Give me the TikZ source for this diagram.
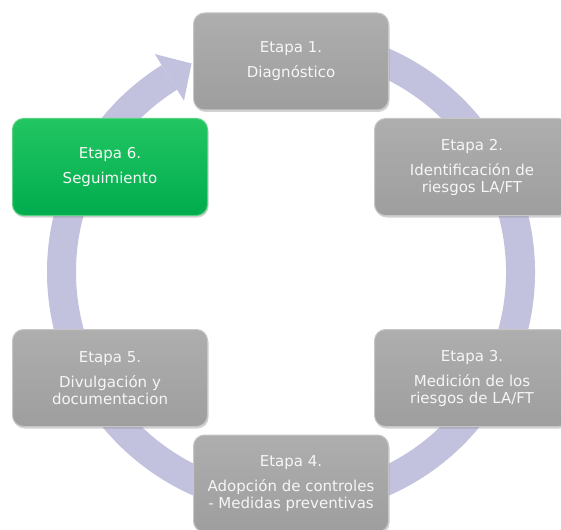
\documentclass[tikz,border=0pt]{standalone}
\usepackage{fontspec}
\setmainfont{DejaVu Sans}
\usepackage{xcolor}
\usepackage{tikz}
\definecolor{grisarriba}{RGB}{174,174,174}
\definecolor{grisabajo}{RGB}{158,158,158}
\definecolor{grisborde}{RGB}{198,198,198}
\definecolor{verdearriba}{RGB}{34,198,98}
\definecolor{verdeabajo}{RGB}{0,172,78}
\definecolor{verdeborde}{RGB}{90,210,130}
\definecolor{lilaanillo}{RGB}{194,194,222}
\definecolor{blancotexto}{RGB}{246,246,246}
\usetikzlibrary{shapes,shadows,arrows}

\begin{document}
\begin{tikzpicture}[x=1pt, y=1pt,
        etapa/.style={draw=grisborde, line width=1pt, rounded corners=11pt,
            top color=grisarriba, bottom color=grisabajo,
            minimum width=195pt, minimum height=97pt, align=center,
            text=blancotexto, font=\fontsize{15}{17}\selectfont,
            drop shadow={opacity=0.35, shadow xshift=1pt, shadow yshift=-2pt}},
        etapaverde/.style={etapa, draw=verdeborde,
            top color=verdearriba, bottom color=verdeabajo},
        anillo/.style={draw=lilaanillo, line width=29pt}]
        \useasboundingbox (0,0) rectangle (561,-529);
        \coordinate (centro) at (291,-272);
        \draw[anillo] ([shift={(100:229.5)}]centro) arc[start angle=100, end angle=-238, radius=229.5];
        \fill[lilaanillo] ([shift={(122:202)}]centro) -- ([shift={(122:257)}]centro)
            -- ([shift={(115.5:231)}]centro) -- cycle;
        \node[etapa] (etapa1) at (291,-61.5) {Etapa 1.\\[8pt]Diagnóstico};
        \node[etapa] (etapa2) at (472,-167) {Etapa 2.\\[8pt]Identificación de\\riesgos LA/FT};
        \node[etapa] (etapa3) at (472,-378) {Etapa 3.\\[8pt]Medición de los\\riesgos de LA/FT};
        \node[etapa] (etapa4) at (291,-483.5) {Etapa 4.\\[8pt]Adopción de controles\\- Medidas preventivas};
        \node[etapa] (etapa5) at (110,-378) {Etapa 5.\\[8pt]Divulgación y\\documentacion};
        \node[etapaverde] (etapa6) at (110,-167) {Etapa 6.\\[8pt]Seguimiento};
      \end{tikzpicture}
\end{document}
